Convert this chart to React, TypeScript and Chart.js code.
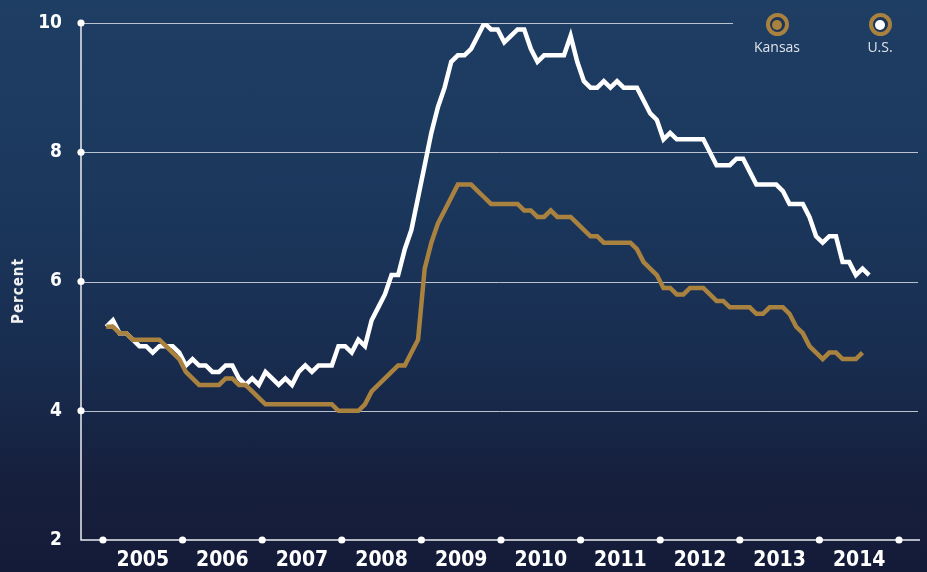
import React, { useEffect, useRef } from "react";
import { Chart, registerables } from "chart.js";

Chart.register(...registerables);

// ---- data ----
const startYear = 2005;
const yearLabels = ["2005", "2006", "2007", "2008", "2009", "2010", "2011", "2012", "2013", "2014"];
const yTickValues = [2, 4, 6, 8, 10];

// U.S. unemployment rate, monthly Jan 2005 - Aug 2014
const usRate = [
  5.3, 5.4, 5.2, 5.2, 5.1, 5.0, 5.0, 4.9, 5.0, 5.0, 5.0, 4.9,
  4.7, 4.8, 4.7, 4.7, 4.6, 4.6, 4.7, 4.7, 4.5, 4.4, 4.5, 4.4,
  4.6, 4.5, 4.4, 4.5, 4.4, 4.6, 4.7, 4.6, 4.7, 4.7, 4.7, 5.0,
  5.0, 4.9, 5.1, 5.0, 5.4, 5.6, 5.8, 6.1, 6.1, 6.5, 6.8, 7.3,
  7.8, 8.3, 8.7, 9.0, 9.4, 9.5, 9.5, 9.6, 9.8, 10.0, 9.9, 9.9,
  9.7, 9.8, 9.9, 9.9, 9.6, 9.4, 9.5, 9.5, 9.5, 9.5, 9.8, 9.4,
  9.1, 9.0, 9.0, 9.1, 9.0, 9.1, 9.0, 9.0, 9.0, 8.8, 8.6, 8.5,
  8.2, 8.3, 8.2, 8.2, 8.2, 8.2, 8.2, 8.0, 7.8, 7.8, 7.8, 7.9,
  7.9, 7.7, 7.5, 7.5, 7.5, 7.5, 7.4, 7.2, 7.2, 7.2, 7.0, 6.7,
  6.6, 6.7, 6.7, 6.3, 6.3, 6.1, 6.2, 6.1,
];

// Kansas unemployment rate, monthly Jan 2005 - Jul 2014
const kansasRate = [
  5.3, 5.3, 5.2, 5.2, 5.1, 5.1, 5.1, 5.1, 5.1, 5.0, 4.9, 4.8,
  4.6, 4.5, 4.4, 4.4, 4.4, 4.4, 4.5, 4.5, 4.4, 4.4, 4.3, 4.2,
  4.1, 4.1, 4.1, 4.1, 4.1, 4.1, 4.1, 4.1, 4.1, 4.1, 4.1, 4.0,
  4.0, 4.0, 4.0, 4.1, 4.3, 4.4, 4.5, 4.6, 4.7, 4.7, 4.9, 5.1,
  6.2, 6.6, 6.9, 7.1, 7.3, 7.5, 7.5, 7.5, 7.4, 7.3, 7.2, 7.2,
  7.2, 7.2, 7.2, 7.1, 7.1, 7.0, 7.0, 7.1, 7.0, 7.0, 7.0, 6.9,
  6.8, 6.7, 6.7, 6.6, 6.6, 6.6, 6.6, 6.6, 6.5, 6.3, 6.2, 6.1,
  5.9, 5.9, 5.8, 5.8, 5.9, 5.9, 5.9, 5.8, 5.7, 5.7, 5.6, 5.6,
  5.6, 5.6, 5.5, 5.5, 5.6, 5.6, 5.6, 5.5, 5.3, 5.2, 5.0, 4.9,
  4.8, 4.9, 4.9, 4.8, 4.8, 4.8, 4.9,
];

// ---- style ----
const GOLD = "#a9823f";
const WHITE = "#ffffff";
const NARROW = "'Liberation Sans Narrow', 'DejaVu Sans Condensed', 'Arial Narrow', sans-serif";
const SANS = "'Open Sans', 'Noto Sans', Lato, sans-serif";
const TOP_GRID_END = 733;

const toPoints = (vals: number[]) =>
  vals.map((v, i) => ({ x: startYear + (i + 0.5) / 12, y: v }));

const axisPlugin = {
  id: "axisDecor",
  beforeDatasetsDraw(chart: any) {
    const { ctx, chartArea, scales } = chart;
    const xs = scales.x;
    const ys = scales.y;
    const left = chartArea.left;
    const right = chartArea.right;
    ctx.save();
    ctx.strokeStyle = "rgba(205,210,220,0.9)";
    ctx.lineWidth = 1;
    yTickValues.forEach((v) => {
      if (v === yTickValues[0]) return;
      const y = Math.round(ys.getPixelForValue(v)) + 0.5;
      const end = v === yTickValues[yTickValues.length - 1] ? TOP_GRID_END : right - 2;
      ctx.beginPath();
      ctx.moveTo(left, y);
      ctx.lineTo(end, y);
      ctx.stroke();
    });
    ctx.strokeStyle = "#e9ecf1";
    ctx.lineWidth = 1.5;
    const yTop = ys.getPixelForValue(yTickValues[yTickValues.length - 1]);
    const yBot = ys.getPixelForValue(yTickValues[0]);
    ctx.beginPath();
    ctx.moveTo(left, yTop);
    ctx.lineTo(left, yBot);
    ctx.lineTo(right, yBot);
    ctx.stroke();
    ctx.fillStyle = "#ffffff";
    yTickValues.forEach((v) => {
      if (v === yTickValues[0]) return;
      ctx.beginPath();
      ctx.arc(left, ys.getPixelForValue(v), 3.6, 0, Math.PI * 2);
      ctx.fill();
    });
    for (let i = 0; i <= yearLabels.length; i++) {
      ctx.beginPath();
      ctx.arc(xs.getPixelForValue(startYear + i), yBot, 3.6, 0, Math.PI * 2);
      ctx.fill();
    }
    ctx.restore();
  },
};

export default function App() {
  const canvasRef = useRef<HTMLCanvasElement | null>(null);

  useEffect(() => {
    document.body.style.margin = "0";
    const canvas = canvasRef.current;
    if (!canvas) return;
    const chart = new Chart(canvas, {
      type: "line",
      data: {
        datasets: [
          {
            label: "Kansas",
            data: toPoints(kansasRate),
            borderColor: GOLD,
            backgroundColor: GOLD,
            borderWidth: 4.5,
            pointRadius: 0,
            tension: 0,
            borderJoinStyle: "miter",
          },
          {
            label: "U.S.",
            data: toPoints(usRate),
            borderColor: WHITE,
            backgroundColor: WHITE,
            borderWidth: 4.5,
            pointRadius: 0,
            tension: 0,
            borderJoinStyle: "miter",
          },
        ],
      },
      options: {
        responsive: false,
        animation: false,
        events: [],
        layout: { padding: { top: 23, right: 7, left: 0, bottom: 0 } },
        plugins: {
          legend: { display: false },
          tooltip: { enabled: false },
          title: { display: false },
        },
        scales: {
          x: {
            type: "linear",
            min: 2004.724,
            max: 2015.264,
            grid: { display: false, drawTicks: false },
            border: { display: false },
            afterBuildTicks: (scale: any) => {
              scale.ticks = yearLabels.map((_, i) => ({ value: startYear + i + 0.5 }));
            },
            afterFit: (scale: any) => {
              scale.height = 32;
            },
            ticks: {
              autoSkip: false,
              maxRotation: 0,
              color: "#ffffff",
              padding: 8,
              font: { family: NARROW, weight: "bold", size: 21 },
              callback: (value: any) => yearLabels[Math.floor(Number(value)) - startYear],
            },
          },
          y: {
            type: "linear",
            min: 2,
            max: 10,
            grid: { display: false, drawTicks: false },
            border: { display: false },
            afterBuildTicks: (scale: any) => {
              scale.ticks = yTickValues.map((v) => ({ value: v }));
            },
            afterFit: (scale: any) => {
              scale.width = 81;
              scale.paddingTop = 0;
              scale.paddingBottom = 0;
            },
            ticks: {
              color: "#ffffff",
              padding: 19,
              font: { family: NARROW, weight: "bold", size: 19 },
              callback: (value: any) => String(value),
            },
          },
        },
      },
      plugins: [axisPlugin],
    });
    return () => chart.destroy();
  }, []);

  const marker = (inner: string, cx: number) => (
    <div
      style={{
        position: "absolute",
        left: cx - 11.5,
        top: 13,
        width: 23,
        height: 23,
        borderRadius: "50%",
        border: `4px solid ${GOLD}`,
        boxSizing: "border-box",
        background: "#1c3557",
        display: "flex",
        alignItems: "center",
        justifyContent: "center",
      }}
    >
      <div style={{ width: 10, height: 10, borderRadius: "50%", background: inner }} />
    </div>
  );

  const legendLabel = (text: string, cx: number) => (
    <div
      style={{
        position: "absolute",
        left: cx - 40,
        top: 37,
        width: 80,
        textAlign: "center",
        fontFamily: SANS,
        fontSize: 14,
        color: "#dfe3ea",
      }}
    >
      {text}
    </div>
  );

  return (
    <div
      style={{
        position: "fixed",
        left: 0,
        top: 0,
        width: 927,
        height: 572,
        overflow: "hidden",
        background:
          "linear-gradient(180deg, #1f3e64 0%, #1b375c 35%, #182d50 62%, #161f3c 85%, #141b38 100%)",
      }}
    >
      <canvas ref={canvasRef} width={927} height={572} style={{ display: "block", position: "absolute", left: 0, top: 0 }} />
      <div
        style={{
          position: "absolute",
          left: 18,
          top: 291,
          transform: "translate(-50%, -50%) rotate(-90deg)",
          fontFamily: NARROW,
          fontWeight: "bold",
          fontSize: 15,
          letterSpacing: 1,
          color: "#f2f2f2",
          whiteSpace: "nowrap",
        }}
      >
        Percent
      </div>
      {marker(GOLD, 777)}
      {legendLabel("Kansas", 777)}
      {marker("#ffffff", 880)}
      {legendLabel("U.S.", 880)}
    </div>
  );
}
